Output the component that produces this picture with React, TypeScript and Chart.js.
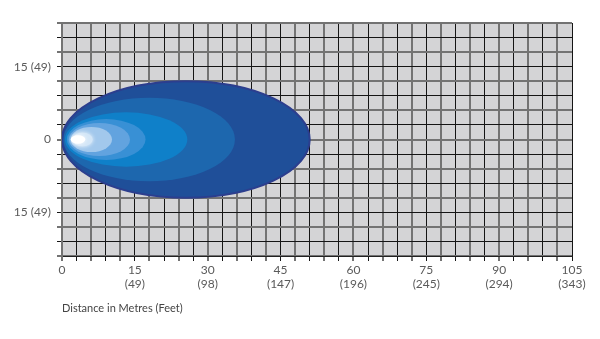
import React, { useEffect, useRef } from "react";
import { Chart, registerables } from "chart.js";

Chart.register(...registerables);

// Axis definitions (metres)
const xMin = 0;
const xMax = 105;
const yMin = -24;
const yMax = 24;
const gridStep = 3;
const xMajorMetres = [0, 15, 30, 45, 60, 75, 90, 105];
const xMajorFeet = ["", "(49)", "(98)", "(147)", "(196)", "(245)", "(294)", "(343)"];
const yLabelValues = [15, 0, -15];
const yLabelTexts = ["15 (49)", "0", "15 (49)"];
const xTitle = "Distance in Metres (Feet)";

// Beam pattern layers (outer to inner): start distance, end distance, half width (metres)
const beamStart = [0, 0.3, 0.6, 1.0, 1.4, 1.8, 2.2, 1.8];
const beamEnd = [51, 35.6, 25.8, 17.2, 14.0, 10.3, 6.3, 4.8];
const beamHalfWidth = [12, 8.6, 5.6, 4.2, 3.4, 2.6, 1.4, 0.85];
const beamColors = [
  "#1f4f99",
  "#1d67ae",
  "#0f80c9",
  "#3890d5",
  "#62a3df",
  "#a2c8ec",
  "#d3e6f7",
  "#ffffff",
];

const bgPlugin = {
  id: "plotBg",
  beforeDraw(chart: any) {
    const { ctx, chartArea } = chart;
    ctx.save();
    ctx.fillStyle = "#d4d4d6";
    ctx.fillRect(chartArea.left, chartArea.top, chartArea.right - chartArea.left, chartArea.bottom - chartArea.top);
    ctx.restore();
  },
};

const beamPlugin = {
  id: "beam",
  afterDatasetsDraw(chart: any) {
    const { ctx, chartArea } = chart;
    const xs = chart.scales.x;
    const ys = chart.scales.y;
    const cy = ys.getPixelForValue(0);
    ctx.save();
    ctx.beginPath();
    ctx.rect(chartArea.left, chartArea.top, chartArea.right - chartArea.left, chartArea.bottom - chartArea.top);
    ctx.clip();
    for (let i = 0; i < beamStart.length; i++) {
      const x0 = xs.getPixelForValue(beamStart[i]);
      const x1 = xs.getPixelForValue(beamEnd[i]);
      const ry = Math.abs(ys.getPixelForValue(beamHalfWidth[i]) - cy);
      ctx.beginPath();
      ctx.ellipse((x0 + x1) / 2, cy, (x1 - x0) / 2, ry, 0, 0, Math.PI * 2);
      ctx.fillStyle = beamColors[i];
      if (i >= 6) {
        ctx.shadowColor = "rgba(255,255,255,0.9)";
        ctx.shadowBlur = 4;
      } else {
        ctx.shadowBlur = 0;
      }
      ctx.fill();
      if (i === 0) {
        ctx.lineWidth = 2;
        ctx.strokeStyle = "#2c3e8e";
        ctx.stroke();
      }
    }
    ctx.restore();
  },
};

const gridColor = (c: any) => (c.index % 2 === 1 ? "#151515" : "#737373");
const gridWidth = (c: any) => (c.index % 2 === 1 ? 1 : 2);

export default function App() {
  const canvasRef = useRef<HTMLCanvasElement | null>(null);

  useEffect(() => {
    const canvas = canvasRef.current;
    if (!canvas) return;
    const chart = new Chart(canvas, {
      type: "scatter",
      data: { datasets: [{ data: [], pointRadius: 0 }] },
      options: {
        animation: false,
        responsive: false,
        devicePixelRatio: 1,
        layout: { padding: { top: 23, right: 28, left: 0, bottom: 24 } },
        plugins: { legend: { display: false }, tooltip: { enabled: false } },
        scales: {
          x: {
            type: "linear",
            min: xMin,
            max: xMax,
            afterFit: (s: any) => {
              s.height = 59;
            },
            afterBuildTicks: (s: any) => {
              const t = [];
              for (let v = xMin; v <= xMax; v += gridStep) t.push({ value: v });
              s.ticks = t;
            },
            border: { color: "#222", width: 1 },
            grid: { color: gridColor, lineWidth: gridWidth, tickLength: 5, drawTicks: true },
            ticks: {
              autoSkip: false,
              maxRotation: 0,
              padding: 2,
              color: "#5a5a5a",
              font: { family: "Lato", size: 12 },
              callback: (v: any) => {
                const i = xMajorMetres.indexOf(Number(v));
                if (i < 0) return "";
                return xMajorFeet[i] ? [String(xMajorMetres[i]), xMajorFeet[i]] : String(xMajorMetres[i]);
              },
            },
            title: {
              display: true,
              text: xTitle,
              align: "start",
              color: "#444",
              font: { family: "Lato", size: 11 },
              padding: { top: 0, bottom: 0 },
            },
          },
          y: {
            type: "linear",
            min: yMin,
            max: yMax,
            afterFit: (s: any) => {
              s.width = 62;
            },
            afterBuildTicks: (s: any) => {
              const t = [];
              for (let v = yMin; v <= yMax; v += gridStep) t.push({ value: v });
              s.ticks = t;
            },
            border: { color: "#737373", width: 2 },
            grid: { color: gridColor, lineWidth: gridWidth, tickLength: 5, drawTicks: true },
            ticks: {
              autoSkip: false,
              padding: 6,
              color: "#5a5a5a",
              font: { family: "Lato", size: 12 },
              callback: (v: any) => {
                const i = yLabelValues.indexOf(Number(v));
                return i < 0 ? "" : yLabelTexts[i];
              },
            },
          },
        },
      },
      plugins: [bgPlugin, beamPlugin],
    } as any);
    return () => chart.destroy();
  }, []);

  return (
    <div style={{ position: "absolute", left: 0, top: 0, width: 600, height: 339, background: "#fff" }}>
      <canvas ref={canvasRef} width={600} height={339} style={{ width: 600, height: 339 }} />
    </div>
  );
}
